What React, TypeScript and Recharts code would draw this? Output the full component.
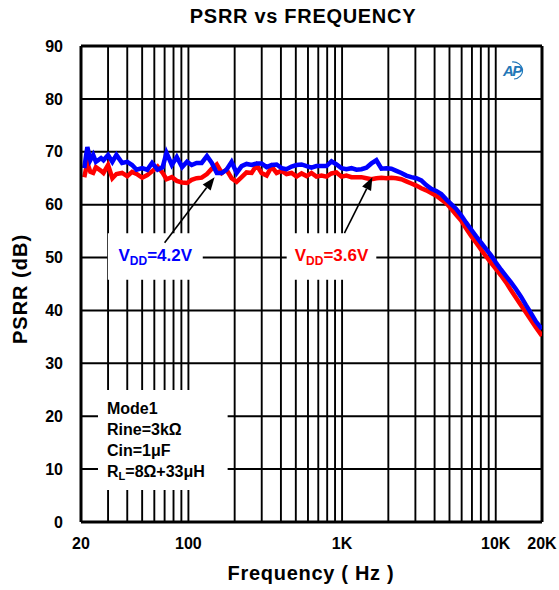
import {
  CartesianGrid,
  Line,
  LineChart,
  ReferenceArea,
  ReferenceLine,
  XAxis,
  YAxis,
} from "recharts";

// frequency points (Hz)
const freqs = [
  21, 22, 23, 24, 25, 27, 28, 30, 32, 34, 37, 40, 43, 46, 50, 54, 58, 63, 68, 72,
  78, 84, 91, 98, 105, 113, 122, 132, 142, 153, 165, 177, 191, 206, 222, 239, 258,
  278, 299, 323, 348, 375, 404, 435, 469, 506, 545, 588, 632, 681, 735, 791, 853,
  919, 991, 1067, 1151, 1240, 1336, 1440, 1552, 1672, 1803, 1942, 2093, 2255, 2430,
  2619, 2822, 3041, 3277, 3531, 3805, 4100, 4418, 4761, 5131, 5528, 5957, 6420,
  6917, 7454, 8032, 8655, 9326, 10050, 10830, 11670, 12575, 13550, 14600, 15730,
  16950, 18270, 20000,
];

// PSRR (dB), VDD = 4.2V
const psrr42 = [
  66.9, 70.9, 68.4, 69.4, 68.1, 68.8, 68.4, 69.4, 68.1, 69.4, 67.9, 68.1, 67.5,
  66.6, 66.9, 66.6, 67.9, 66.6, 67.1, 69.8, 67.5, 69.0, 67.1, 68.1, 67.5, 67.9,
  67.9, 69.2, 67.9, 66.0, 66.0, 66.6, 68.1, 66.0, 67.3, 67.7, 67.5, 67.8, 67.8,
  67.1, 67.5, 67.6, 66.9, 66.7, 67.2, 67.5, 67.6, 67.3, 67.0, 67.3, 67.3, 67.3,
  68.2, 67.6, 66.9, 66.7, 66.9, 66.6, 66.7, 67.0, 67.8, 68.4, 66.8, 66.9, 66.8,
  66.4, 66.0, 65.5, 65.2, 65.0, 64.6, 63.7, 63.0, 62.6, 62.0, 61.0, 60.1, 59.2,
  58.0, 56.6, 55.3, 54.0, 52.8, 51.6, 50.4, 49.0, 47.7, 46.5, 45.3, 44.0, 42.6,
  41.0, 39.5, 37.9, 36.5,
];

// PSRR (dB), VDD = 3.6V
const psrr36 = [
  65.2, 67.9, 66.2, 66.0, 67.1, 66.4, 66.0, 67.5, 65.0, 65.8, 66.0, 65.4, 66.2,
  65.8, 65.1, 65.6, 66.3, 67.2, 66.0, 64.8, 65.2, 64.5, 64.2, 64.1, 64.7, 65.0,
  65.1, 65.8, 66.8, 67.6, 66.0, 66.6, 65.0, 64.3, 65.2, 66.1, 66.0, 67.5, 66.0,
  65.5, 67.2, 66.0, 66.4, 65.8, 66.0, 65.3, 65.9, 65.4, 66.0, 65.3, 65.5, 65.3,
  65.9, 66.1, 65.3, 65.5, 65.2, 65.2, 65.2, 65.0, 64.8, 65.0, 65.1, 65.0, 65.1,
  65.0, 64.8, 64.4, 64.0, 63.6, 63.1, 62.7, 62.2, 61.7, 61.0, 60.3, 59.2, 58.1,
  57.0, 55.5, 54.1, 52.8, 51.5, 50.2, 49.0, 47.8, 46.6, 45.3, 43.8, 42.4, 41.0,
  39.6, 38.2, 36.8, 35.2,
];

const xTicks = [20, 100, 1000, 10000, 20000];
const xTickLabels = ["20", "100", "1K", "10K", "20K"];
const yTicks = [0, 10, 20, 30, 40, 50, 60, 70, 80, 90];
const gridFreqs = [
  30, 40, 50, 60, 70, 80, 90, 100, 200, 300, 400, 500, 600, 700, 800, 900, 1000,
  2000, 3000, 4000, 5000, 6000, 7000, 8000, 9000, 10000,
];
const conditions = ["Mode1", "Rine=3kΩ", "Cin=1μF"];

const data = freqs.map((f, i) => ({ f, v42: psrr42[i], v36: psrr36[i] }));

const FONT = "Arial, 'Liberation Sans', sans-serif";

function Arrow(props: any) {
  const { x1, y1, x2, y2 } = props;
  const ang = Math.atan2(y2 - y1, x2 - x1);
  const len = 13;
  const half = 5;
  const bx = x2 - len * Math.cos(ang);
  const by = y2 - len * Math.sin(ang);
  const px = -Math.sin(ang) * half;
  const py = Math.cos(ang) * half;
  return (
    <g>
      <line x1={x1} y1={y1} x2={bx} y2={by} stroke="#000" strokeWidth={1.6} />
      <polygon points={`${x2},${y2} ${bx + px},${by + py} ${bx - px},${by - py}`} fill="#000" />
    </g>
  );
}

function vddLabel(value: string, color: string) {
  return (props: any) => {
    const vb = props.viewBox;
    return (
      <text
        x={vb.x + vb.width / 2}
        y={vb.y + 28}
        textAnchor="middle"
        fill={color}
        fontFamily={FONT}
        fontWeight="bold"
        fontSize={17}
      >
        <tspan>V</tspan>
        <tspan fontSize={12} dy={4}>DD</tspan>
        <tspan dy={-4}>{value}</tspan>
      </text>
    );
  };
}

function conditionsLabel(props: any) {
  const vb = props.viewBox;
  return (
    <text x={vb.x + 9} y={vb.y + 24} fill="#000" fontFamily={FONT} fontWeight="bold" fontSize={16}>
      {conditions.map((c, i) => (
        <tspan key={c} x={vb.x + 9} dy={i === 0 ? 0 : 21}>
          {c}
        </tspan>
      ))}
      <tspan x={vb.x + 9} dy={21}>R</tspan>
      <tspan fontSize={11} dy={3}>L</tspan>
      <tspan dy={-3}>=8Ω+33μH</tspan>
    </text>
  );
}

export default function App() {
  return (
    <div style={{ width: 559, height: 590, background: "#fff", fontFamily: FONT }}>
      <style>{"body{margin:0}"}</style>
      <LineChart
        width={559}
        height={590}
        data={data}
        margin={{ top: 46, right: 17, bottom: 28, left: 21 }}
      >
        <text x={303} y={23} textAnchor="middle" fontFamily={FONT} fontWeight="bold" fontSize={20} letterSpacing={0.7} fill="#000">
          PSRR vs FREQUENCY
        </text>
        <text
          x={27}
          y={289}
          transform="rotate(-90 27 289)"
          textAnchor="middle"
          fontFamily={FONT}
          fontWeight="bold"
          fontSize={20}
          letterSpacing={1}
          fill="#000"
        >
          PSRR (dB)
        </text>
        <text x={311} y={580} textAnchor="middle" fontFamily={FONT} fontWeight="bold" fontSize={20} letterSpacing={0.7} fill="#000">
          Frequency ( Hz )
        </text>
        <g>
          <text x={503} y={76} fontFamily={FONT} fontStyle="italic" fontWeight="bold" fontSize={15} fill="#2377b8" letterSpacing={-1.5}>
            AP
          </text>
          <path d="M 512 62 A 9 8 0 0 1 514 79" fill="none" stroke="#2377b8" strokeWidth={1.2} />
        </g>
        <CartesianGrid vertical={false} stroke="#000" strokeWidth={2} strokeOpacity={1} />
        {gridFreqs.map((f) => (
          <ReferenceLine key={f} x={f} stroke="#000" strokeWidth={1.9} strokeOpacity={1} zIndex={-50} />
        ))}
        <ReferenceLine x={20000} stroke="#000" strokeWidth={3} zIndex={-40} />
        <ReferenceLine y={90} stroke="#000" strokeWidth={3} zIndex={-40} />
        <XAxis
          dataKey="f"
          type="number"
          scale="log"
          domain={[20, 20000]}
          allowDataOverflow
          ticks={xTicks}
          interval={0}
          tickFormatter={(v: number) => xTickLabels[xTicks.indexOf(v)] ?? String(v)}
          tickLine={false}
          axisLine={{ stroke: "#000", strokeWidth: 3 }}
          tickMargin={10}
          height={40}
          tick={{ fill: "#000", fontSize: 16, fontWeight: "bold", fontFamily: FONT }}
        />
        <YAxis
          type="number"
          domain={[0, 90]}
          ticks={yTicks}
          interval={0}
          width={60}
          tickLine={false}
          axisLine={{ stroke: "#000", strokeWidth: 3 }}
          tickMargin={12}
          tick={{ fill: "#000", fontSize: 16, fontWeight: "bold", fontFamily: FONT }}
        />
        <Line
          dataKey="v36"
          stroke="#ff0000"
          strokeWidth={4.5}
          dot={false}
          activeDot={false}
          type="linear"
          isAnimationActive={false}
        />
        <Line
          dataKey="v42"
          stroke="#0000ff"
          strokeWidth={4.5}
          dot={false}
          activeDot={false}
          type="linear"
          isAnimationActive={false}
        />
        <ReferenceArea
          x1={29.9}
          x2={124}
          y1={45.8}
          y2={54.6}
          fill="#fff"
          fillOpacity={1}
          stroke="none"
          zIndex={450}
          label={vddLabel("=4.2V", "#0000ff")}
        />
        <ReferenceArea
          x1={436}
          x2={1670}
          y1={45.8}
          y2={54.6}
          fill="#fff"
          fillOpacity={1}
          stroke="none"
          zIndex={450}
          label={vddLabel("=3.6V", "#ff0000")}
        />
        <ReferenceArea
          x1={25.8}
          x2={180}
          y1={6.05}
          y2={24.96}
          fill="#fff"
          fillOpacity={1}
          stroke="none"
          zIndex={450}
          label={conditionsLabel}
        />
        <ReferenceLine
          segment={[
            { x: 70, y: 52.8 },
            { x: 148, y: 65.2 },
          ]}
          shape={Arrow}
          zIndex={500}
        />
        <ReferenceLine
          segment={[
            { x: 1036, y: 54.6 },
            { x: 1575, y: 65.2 },
          ]}
          shape={Arrow}
          zIndex={500}
        />
      </LineChart>
    </div>
  );
}
